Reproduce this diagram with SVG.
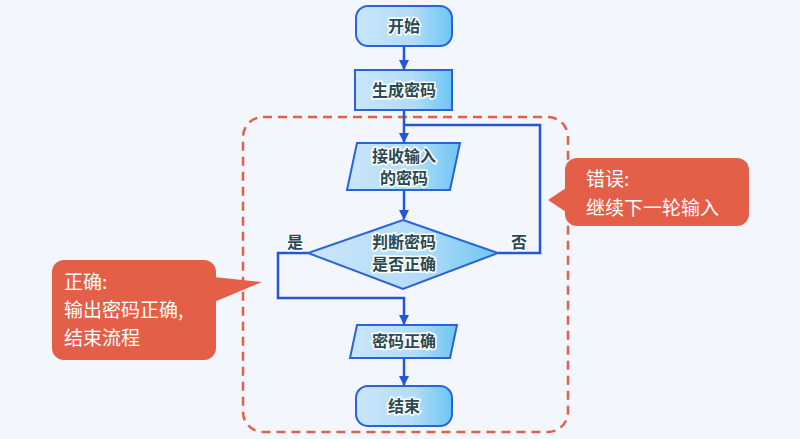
<svg xmlns="http://www.w3.org/2000/svg" width="800" height="439" viewBox="0 0 800 439">
<defs>
<linearGradient id="g" x1="0" y1="0" x2="1" y2="0"><stop offset="0" stop-color="#c9e6fa"/><stop offset="0.6" stop-color="#b3dcf8"/><stop offset="1" stop-color="#6cc6f4"/></linearGradient>
<marker id="a" markerWidth="10" markerHeight="10" refX="9" refY="5" orient="auto" markerUnits="userSpaceOnUse"><path d="M0,0 L10,5 L0,10 z" fill="#2456d8"/></marker>
<style>
.n{fill:url(#g);stroke:#2a62d8;stroke-width:2}
.t{font-family:"Noto Sans CJK SC",sans-serif;font-size:16px;font-weight:bold;fill:#2a4a52;stroke:#fff;stroke-width:3;paint-order:stroke;text-anchor:middle}
.c{fill:#e45f48}
.ct{font-family:"Noto Sans CJK SC",sans-serif;font-size:19px;fill:#fff}
.e{fill:none;stroke:#2456d8;stroke-width:2.5}
</style>
</defs>
<rect width="800" height="439" fill="#f3f6fd"/>
<rect x="243" y="117" width="325" height="315" rx="20" fill="none" stroke="#e0604a" stroke-width="2.5" stroke-dasharray="9,6"/>
<g id="connectors">
<path class="e" d="M404,46 V69" marker-end="url(#a)"/>
<path class="e" d="M404,110 V142" marker-end="url(#a)"/>
<path class="e" d="M404,125 H540 V253 H498"/>
<path class="e" d="M404,190 V219" marker-end="url(#a)"/>
<path class="e" d="M308,253 H278 V298 H404 V324" marker-end="url(#a)"/>
<path class="e" d="M404,358 V385" marker-end="url(#a)"/>
<text class="t" x="295" y="248">是</text>
<text class="t" x="519" y="248">否</text>
</g>
<g id="start"><rect class="n" x="356" y="6" width="96" height="40" rx="12"/><text class="t" x="404" y="32">开始</text></g>
<g id="gen"><rect class="n" x="355" y="70" width="97" height="40"/><text class="t" x="404" y="96">生成密码</text></g>
<g id="input"><path class="n" d="M357,143 H460 L450,190 H347 Z"/><text class="t" x="404" y="162">接收输入</text><text class="t" x="404" y="184">的密码</text></g>
<g id="judge"><path class="n" d="M403,220 L498,253 L403,289 L308,253 Z"/><text class="t" x="404" y="248">判断密码</text><text class="t" x="404" y="270">是否正确</text></g>
<g id="ok"><path class="n" d="M357,325 H457 L450,358 H350 Z"/><text class="t" x="404" y="347">密码正确</text></g>
<g id="end"><rect class="n" x="356" y="386" width="96" height="40" rx="12"/><text class="t" x="404" y="412">结束</text></g>
<g id="err"><rect class="c" x="565" y="158" width="184" height="68" rx="12"/><path class="c" d="M566,188 L548,200 L566,212 Z"/><text class="ct" x="586" y="186">错误:</text><text class="ct" x="586" y="215">继续下一轮输入</text></g>
<g id="right"><rect class="c" x="52" y="260" width="164" height="100" rx="12"/><path class="c" d="M214,277 L262,282 L214,302 Z"/><text class="ct" x="64" y="289">正确:</text><text class="ct" x="64" y="317">输出密码正确,</text><text class="ct" x="64" y="345">结束流程</text></g>
</svg>
